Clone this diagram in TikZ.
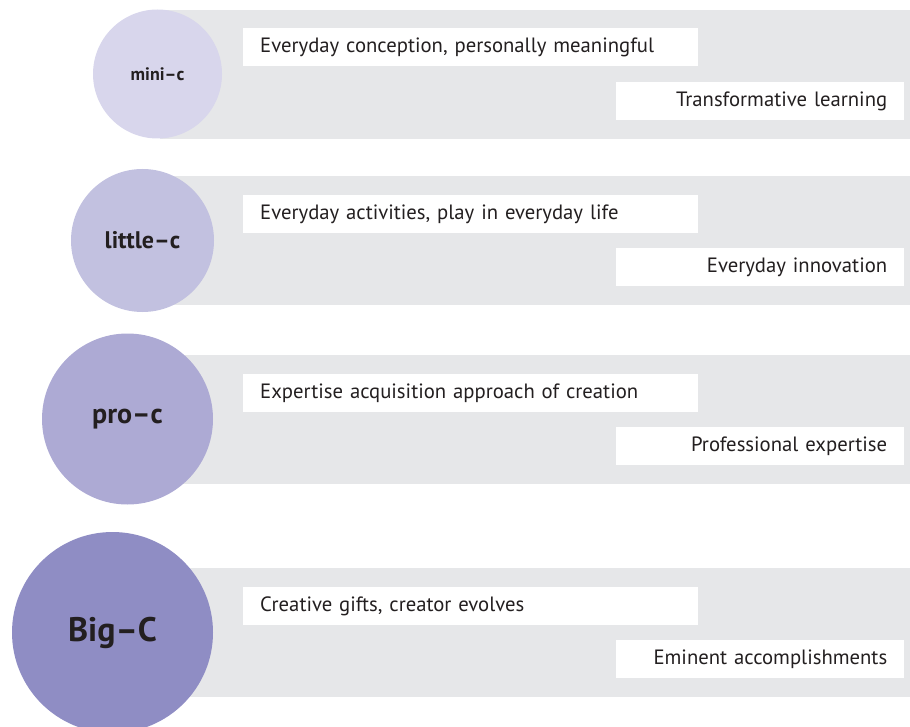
\documentclass[tikz,border=0pt]{standalone}
\usepackage{fontspec}
\setmainfont{PT Sans}
\definecolor{bandgray}{HTML}{E6E7E9}
\definecolor{textdark}{HTML}{231F20}
\definecolor{miniC}{HTML}{D8D6EC}
\definecolor{littleC}{HTML}{C2C1E0}
\definecolor{proC}{HTML}{ADAAD4}
\definecolor{bigC}{HTML}{8F8DC4}
\tikzset{
  band/.style={fill=bandgray,anchor=north west,inner sep=0pt,minimum width=750pt,minimum height=128.5pt},
  level/.style={circle,inner sep=0pt,text=textdark,font=\bfseries},
  topbox/.style={fill=white,anchor=north west,inner xsep=17pt,inner ysep=0pt,minimum height=38pt,
    text width=421pt,align=left,text=textdark,font=\fontsize{20.7}{24}\selectfont},
  botbox/.style={topbox,text width=254pt,align=right}
}
\begin{document}
\begin{tikzpicture}[x=1pt,y=-1pt]
\useasboundingbox (0,0) rectangle (910,727);
% grey bands
\node[band] (b1) at (160,10) {};
\node[band] (b2) at (160,176) {};
\node[band] (b3) at (160,355) {};
\node[band] (b4) at (160,568) {};
% level circles
\node[level,fill=miniC,minimum size=129pt,font=\bfseries\fontsize{18}{22}\selectfont] (mini) at (157.5,74) {mini--c};
\node[level,fill=littleC,minimum size=143pt,font=\bfseries\fontsize{24}{28}\selectfont] (little) at (142.5,240.5) {little--c};
\node[level,fill=proC,minimum size=171pt,font=\bfseries\fontsize{28}{32}\selectfont] (pro) at (127.5,419) {pro--c};
\node[level,fill=bigC,minimum size=201pt,font=\bfseries\fontsize{34}{40}\selectfont] (big) at (112.5,632.5) {Big--C};
% text boxes
\node[topbox] (mini1) at (243,28) {Everyday conception, personally meaningful};
\node[botbox] (mini2) at (616,82) {Transformative learning};
\node[topbox] (little1) at (243,195) {Everyday activities, play in everyday life};
\node[botbox] (little2) at (616,248) {Everyday innovation};
\node[topbox] (pro1) at (243,374) {Expertise acquisition approach of creation};
\node[botbox] (pro2) at (616,427) {Professional expertise};
\node[topbox] (big1) at (243,587) {Creative gifts, creator evolves};
\node[botbox] (big2) at (616,640) {Eminent accomplishments};
\end{tikzpicture}
\end{document}
